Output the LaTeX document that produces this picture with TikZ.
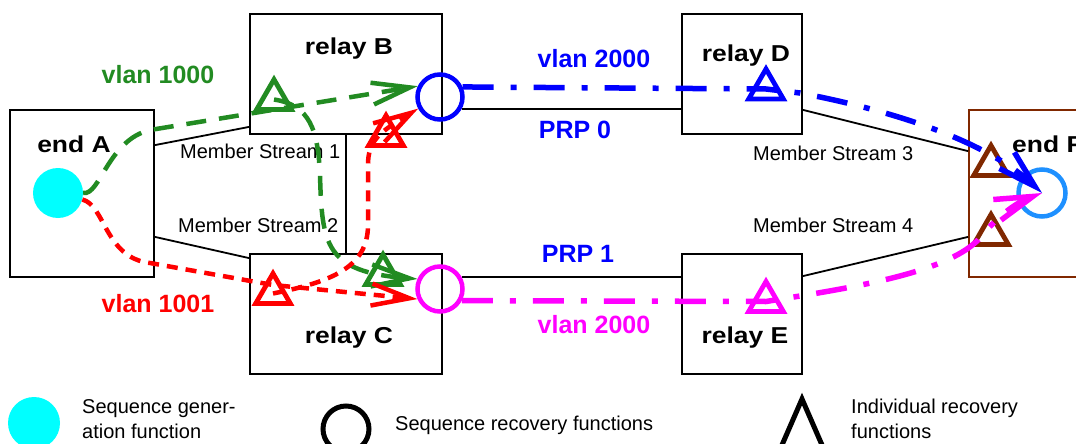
\documentclass[tikz,border=0pt]{standalone}
\usepackage{fontspec}
\setmainfont{Liberation Sans}
\newfontfamily\wideface[FakeStretch=1.15]{Liberation Sans}
\usetikzlibrary{arrows.meta,shapes.geometric}
\definecolor{vgreen}{RGB}{34,139,34}
\definecolor{endbrown}{RGB}{128,40,0}
\definecolor{recblue}{RGB}{30,144,255}
\definecolor{gencyan}{RGB}{0,255,255}
\definecolor{vmagenta}{RGB}{255,0,255}
\definecolor{vblue}{RGB}{0,0,255}
\definecolor{vred}{RGB}{255,0,0}
\begin{document}
\begin{tikzpicture}[x=1pt, y=-1pt,
    box/.style args={#1x#2}{draw, line width=1.8pt, inner sep=0pt, minimum width=#1, minimum height=#2},
    link/.style={line width=1.8pt},
    seqrec/.style={circle, draw=#1, line width=4.5pt, inner sep=0pt, minimum size=45},
    indrec/.style={regular polygon, regular polygon sides=3, draw=#1, line width=4.8pt, inner sep=0pt, minimum size=40},
    barb/.style={-{Straight Barb[length=38pt, width=22pt]}},
    v1000/.style={vgreen, line width=4.5pt, dash pattern=on 20pt off 13pt, barb},
    v1001/.style={vred, line width=4.5pt, dash pattern=on 11pt off 8pt, barb},
    v2000/.style={#1, line width=5.5pt, dash pattern=on 31pt off 17pt on 6pt off 17pt, barb},
    boxlabel/.style={font=\wideface\bfseries\fontsize{23}{27}\selectfont, anchor=base, inner sep=0pt},
    vlanlabel/.style={font=\bfseries\fontsize{25}{30}\selectfont, text=#1, anchor=base, inner sep=0pt},
    streamlabel/.style={font=\fontsize{20}{24}\selectfont, anchor=base west, inner sep=0pt},
    legendtext/.style={font=\fontsize{20}{25}\selectfont, anchor=base west, inner sep=0pt, align=left}
]
    \useasboundingbox (0,0) rectangle (1076,444);
    % Boxes
    \node[box=144x167] (endA) at (82,193.5) {};
    \node[box=192x120] (relayB) at (346,74) {};
    \node[box=192x120] (relayC) at (346,314) {};
    \node[box=120x120] (relayD) at (742,74) {};
    \node[box=120x120] (relayE) at (742,314) {};
    \node[box=156x167, draw=endbrown] (endF) at (1047,193.5) {};
    % Box labels
    \node[boxlabel] (endAtext) at (74,152) {end A};
    \node[boxlabel] (relayBtext) at (349,55) {relay B};
    \node[boxlabel] (relayCtext) at (349,343) {relay C};
    \node[boxlabel] (relayDtext) at (746,62) {relay D};
    \node[boxlabel] (relayEtext) at (745,343) {relay E};
    \node[boxlabel, anchor=base west] (endFtext) at (1012,152) {end F};
    % Functions
    \node[circle, fill=gencyan, inner sep=0pt, minimum size=50] (gen) at (58,193) {};
    \node[seqrec=vblue] (seqB) at (440,97) {};
    \node[seqrec=vmagenta] (seqC) at (440,289) {};
    \node[seqrec=recblue, minimum size=47] (seqF) at (1042,193) {};
    \node[indrec=vgreen] (grB) at (274,99.5) {};
    \node[indrec=vred] (rdB) at (386,135.5) {};
    \node[indrec=vgreen] (grC) at (383,274.5) {};
    \node[indrec=vred] (rdC) at (273,293.5) {};
    \node[indrec=vblue] (blD) at (766,89) {};
    \node[indrec=vmagenta] (mgE) at (766,301.5) {};
    \node[indrec=endbrown] (brF1) at (991,165.5) {};
    \node[indrec=endbrown] (brF2) at (991,234.5) {};
    % Links
    \draw[link] ([yshift=-36pt]endA.north east) -- ([yshift=8pt]relayB.south west);
    \draw[link] ([yshift=41pt]endA.south east) -- ([yshift=-5pt]relayC.north west);
    \draw[link] (relayB.south) -- (relayC.north);
    \draw[link] (seqB.-29) -- (seqB.-29 -| relayD.west);
    \draw[link] (seqC.29) -- (seqC.29 -| relayE.west);
    \draw[link] ([yshift=25pt]relayD.south east) -- ([yshift=-42pt]endF.north west);
    \draw[link] ([yshift=-23pt]relayE.north east) -- ([yshift=41pt]endF.south west);
    % Link labels
    \node[streamlabel] (ms1) at (180,158) {Member Stream 1};
    \node[streamlabel] (ms2) at (178,232) {Member Stream 2};
    \node[streamlabel] (ms3) at (753,160) {Member Stream 3};
    \node[streamlabel] (ms4) at (753,232) {Member Stream 4};
    \node[vlanlabel=vgreen] (vlanA) at (158,83) {vlan 1000};
    \node[vlanlabel=vred] (vlanB) at (158,312) {vlan 1001};
    \node[vlanlabel=vblue] (vlanC) at (594,67) {vlan 2000};
    \node[vlanlabel=vblue] (prp0) at (575,138) {PRP 0};
    \node[vlanlabel=vblue] (prp1) at (578,262) {PRP 1};
    \node[vlanlabel=vmagenta] (vlanD) at (594,333) {vlan 2000};
    % Streams
    \draw[v1000] (gen.east) .. controls (100,196) and (108,140) .. (150,130) -- (seqB.154);
    \draw[v1000] (grB.center) .. controls (310,105) and (318,130) .. (320,175) .. controls (322,245) and (325,272) .. (seqC.156);
    \draw[v1001] (gen.-15) .. controls (105,205) and (105,258) .. (150,263) -- (273,285) -- (seqC.204);
    \draw[v1001] (rdC.center) .. controls (330,282) and (368,268) .. (368,225) -- (368,165) .. controls (368,140) and (380,132) .. (seqB.208);
    \draw[v2000=vblue] (seqB.24) -- (blD.center) -- (800,93) .. controls (890,110) and (985,140) .. (seqF.center);
    \draw[v2000=vmagenta] (seqC.-28) -- (mgE.center) -- (800,296) .. controls (880,283) and (950,268) .. (978,240) .. controls (990,225) and (1010,205) .. (seqF.center);
    % Legend
    \node[circle, fill=gencyan, inner sep=0pt, minimum size=52] (legGen) at (34,423) {};
    \node[seqrec=black, line width=5pt, minimum size=46] (legSeq) at (346,429) {};
    \draw[line width=5pt] (802,399) -- (832,468) -- (772,468) -- cycle;
    \node[legendtext] (legGenText) at (82,438) {Sequence gener-\\ation function};
    \node[legendtext] (legSeqText) at (395,430) {Sequence recovery functions};
    \node[legendtext] (legIndText) at (851,438) {Individual recovery\\functions};
\end{tikzpicture}
\end{document}
